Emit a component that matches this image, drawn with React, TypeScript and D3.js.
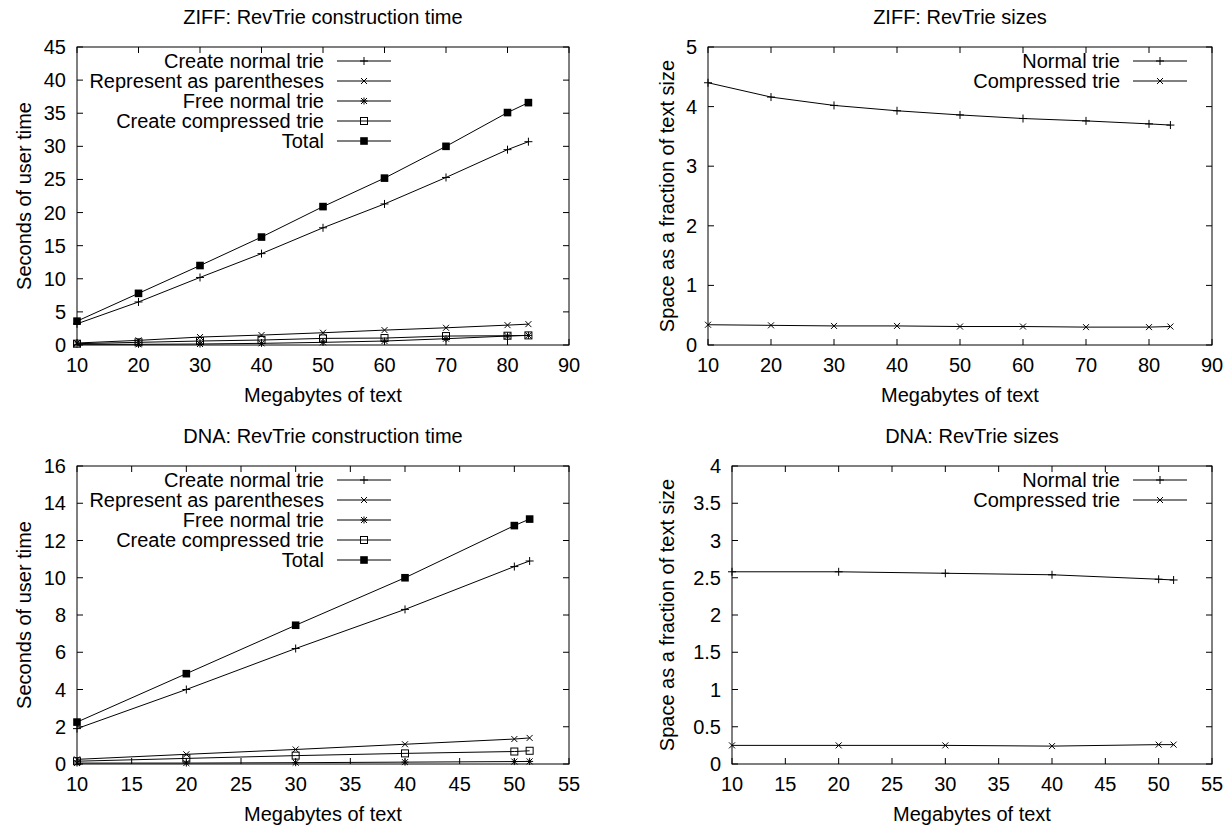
import React from "react";
import * as d3 from "d3";

const FONT = "'Liberation Sans', Arial, Helvetica, sans-serif";
const FS = 20;

// ---------- data ----------
const ziffX = [10, 20, 30, 40, 50, 60, 70, 80, 83.4];
const ziffCreateNormal = [3.2, 6.5, 10.2, 13.8, 17.7, 21.3, 25.3, 29.5, 30.7];
const ziffParentheses = [0.3, 0.7, 1.2, 1.5, 1.85, 2.25, 2.6, 3.0, 3.15];
const ziffFreeNormal = [0.1, 0.1, 0.15, 0.25, 0.4, 0.6, 0.95, 1.35, 1.45];
const ziffCreateCompressed = [0.2, 0.4, 0.6, 0.75, 1.0, 1.05, 1.35, 1.4, 1.45];
const ziffTotal = [3.6, 7.8, 12.0, 16.3, 20.9, 25.2, 30.0, 35.1, 36.6];
const ziffNormalSize = [4.4, 4.16, 4.02, 3.93, 3.86, 3.8, 3.76, 3.71, 3.69];
const ziffCompressedSize = [0.34, 0.33, 0.32, 0.32, 0.31, 0.31, 0.3, 0.3, 0.31];

const dnaX = [10, 20, 30, 40, 50, 51.4];
const dnaCreateNormal = [1.9, 4.0, 6.2, 8.3, 10.6, 10.9];
const dnaParentheses = [0.25, 0.52, 0.78, 1.06, 1.34, 1.4];
const dnaFreeNormal = [0.05, 0.05, 0.07, 0.1, 0.13, 0.14];
const dnaCreateCompressed = [0.15, 0.3, 0.45, 0.57, 0.67, 0.71];
const dnaTotal = [2.25, 4.85, 7.45, 10.0, 12.8, 13.15];
const dnaNormalSize = [2.58, 2.58, 2.56, 2.54, 2.48, 2.47];
const dnaCompressedSize = [0.25, 0.25, 0.25, 0.24, 0.26, 0.26];

const ziffXTicks = [10, 20, 30, 40, 50, 60, 70, 80, 90];
const dnaXTicks = [10, 15, 20, 25, 30, 35, 40, 45, 50, 55];
const ziffTimeYTicks = [0, 5, 10, 15, 20, 25, 30, 35, 40, 45];
const ziffSizeYTicks = [0, 1, 2, 3, 4, 5];
const dnaTimeYTicks = [0, 2, 4, 6, 8, 10, 12, 14, 16];
const dnaSizeYTicks = [0, 0.5, 1, 1.5, 2, 2.5, 3, 3.5, 4];

const timeLabels = [
  "Create normal trie",
  "Represent as parentheses",
  "Free normal trie",
  "Create compressed trie",
  "Total",
];
const sizeLabels = ["Normal trie", "Compressed trie"];

type MarkerType = "plus" | "cross" | "star" | "box" | "boxf";
const timeMarkers: MarkerType[] = ["plus", "cross", "star", "box", "boxf"];
const sizeMarkers: MarkerType[] = ["plus", "cross"];

interface Series {
  label: string;
  values: number[];
  marker: MarkerType;
}

function Marker({ type, x, y }: { type: MarkerType; x: number; y: number }) {
  const common = { stroke: "#000", strokeWidth: 1, fill: "none" };
  if (type === "plus") {
    const s = 4;
    return <path d={`M${x - s},${y}H${x + s}M${x},${y - s}V${y + s}`} {...common} />;
  }
  if (type === "cross") {
    const s = 3;
    return (
      <path
        d={`M${x - s},${y - s}L${x + s},${y + s}M${x - s},${y + s}L${x + s},${y - s}`}
        {...common}
      />
    );
  }
  if (type === "star") {
    const s = 3.5;
    const c = 3;
    return (
      <path
        d={`M${x - s},${y}H${x + s}M${x},${y - s}V${y + s}M${x - c},${y - c}L${x + c},${y + c}M${x - c},${y + c}L${x + c},${y - c}`}
        {...common}
      />
    );
  }
  if (type === "box") {
    const s = 3.5;
    return <rect x={x - s} y={y - s} width={2 * s} height={2 * s} {...common} />;
  }
  const s = 3.8;
  return <rect x={x - s} y={y - s} width={2 * s} height={2 * s} fill="#000" />;
}

interface PanelProps {
  title: string;
  ylabel: string;
  xs: number[];
  series: Series[];
  xDomain: [number, number];
  yDomain: [number, number];
  xTicks: number[];
  yTicks: number[];
  left: number;
  right: number;
  top: number;
  bottom: number;
  ylabelX: number;
  keyTextRight: number;
  keyLineStart: number;
  keyLineEnd: number;
}

function Panel(p: PanelProps) {
  const x = d3.scaleLinear().domain(p.xDomain).range([p.left, p.right]);
  const y = d3.scaleLinear().domain(p.yDomain).range([p.bottom, p.top]);
  const line = d3
    .line<number>()
    .x((_, i) => x(p.xs[i]))
    .y((v) => y(v));
  const tick = 6;
  const cx = (p.left + p.right) / 2;
  const cy = (p.top + p.bottom) / 2;
  const keyMid = (p.keyLineStart + p.keyLineEnd) / 2;
  return (
    <g>
      <text x={cx} y={p.top - 23} textAnchor="middle" fontSize={FS} fontFamily={FONT}>
        {p.title}
      </text>
      <text
        transform={`translate(${p.ylabelX},${cy}) rotate(-90)`}
        textAnchor="middle"
        dominantBaseline="central"
        fontSize={FS}
        fontFamily={FONT}
      >
        {p.ylabel}
      </text>
      <text x={cx} y={p.bottom + 57} textAnchor="middle" fontSize={FS} fontFamily={FONT}>
        Megabytes of text
      </text>
      {p.xTicks.map((t) => (
        <g key={"xt" + t}>
          <line x1={x(t)} x2={x(t)} y1={p.bottom} y2={p.bottom - tick} stroke="#000" />
          <line x1={x(t)} x2={x(t)} y1={p.top} y2={p.top + tick} stroke="#000" />
          <text x={x(t)} y={p.bottom + 27} textAnchor="middle" fontSize={FS} fontFamily={FONT}>
            {String(t)}
          </text>
        </g>
      ))}
      {p.yTicks.map((t) => (
        <g key={"yt" + t}>
          <line x1={p.left} x2={p.left + tick} y1={y(t)} y2={y(t)} stroke="#000" />
          <line x1={p.right} x2={p.right - tick} y1={y(t)} y2={y(t)} stroke="#000" />
          <text
            x={p.left - 11}
            y={y(t) + 7}
            textAnchor="end"
            fontSize={FS}
            fontFamily={FONT}
          >
            {String(t)}
          </text>
        </g>
      ))}
      <rect
        x={p.left}
        y={p.top}
        width={p.right - p.left}
        height={p.bottom - p.top}
        fill="none"
        stroke="#000"
        strokeWidth={1}
      />
      {p.series.map((s, si) => (
        <g key={"s" + si}>
          <path d={line(s.values) || ""} fill="none" stroke="#000" strokeWidth={1} />
          {s.values.map((v, i) => (
            <Marker key={i} type={s.marker} x={x(p.xs[i])} y={y(v)} />
          ))}
        </g>
      ))}
      {p.series.map((s, si) => {
        const ky = p.top + 14 + si * 20;
        return (
          <g key={"k" + si}>
            <text
              x={p.keyTextRight}
              y={ky + 7}
              textAnchor="end"
              fontSize={FS}
              fontFamily={FONT}
            >
              {s.label}
            </text>
            <line x1={p.keyLineStart} x2={p.keyLineEnd} y1={ky} y2={ky} stroke="#000" />
            <Marker type={s.marker} x={keyMid} y={ky} />
          </g>
        );
      })}
    </g>
  );
}

export default function App() {
  const ziffTime: Series[] = [
    ziffCreateNormal,
    ziffParentheses,
    ziffFreeNormal,
    ziffCreateCompressed,
    ziffTotal,
  ].map((v, i) => ({ label: timeLabels[i], values: v, marker: timeMarkers[i] }));
  const dnaTime: Series[] = [
    dnaCreateNormal,
    dnaParentheses,
    dnaFreeNormal,
    dnaCreateCompressed,
    dnaTotal,
  ].map((v, i) => ({ label: timeLabels[i], values: v, marker: timeMarkers[i] }));
  const ziffSize: Series[] = [ziffNormalSize, ziffCompressedSize].map((v, i) => ({
    label: sizeLabels[i],
    values: v,
    marker: sizeMarkers[i],
  }));
  const dnaSize: Series[] = [dnaNormalSize, dnaCompressedSize].map((v, i) => ({
    label: sizeLabels[i],
    values: v,
    marker: sizeMarkers[i],
  }));

  return (
    <svg
      width={1230}
      height={826}
      style={{ position: "absolute", left: 0, top: 0, display: "block" }}
    >
      <rect x={0} y={0} width={1230} height={826} fill="#fff" />
      <Panel
        title="ZIFF: RevTrie construction time"
        ylabel="Seconds of user time"
        xs={ziffX}
        series={ziffTime}
        xDomain={[10, 90]}
        yDomain={[0, 45]}
        xTicks={ziffXTicks}
        yTicks={ziffTimeYTicks}
        left={77}
        right={569}
        top={47}
        bottom={345}
        ylabelX={24}
        keyTextRight={324}
        keyLineStart={337}
        keyLineEnd={391}
      />
      <Panel
        title="ZIFF: RevTrie sizes"
        ylabel="Space as a fraction of text size"
        xs={ziffX}
        series={ziffSize}
        xDomain={[10, 90]}
        yDomain={[0, 5]}
        xTicks={ziffXTicks}
        yTicks={ziffSizeYTicks}
        left={708}
        right={1212}
        top={47}
        bottom={345}
        ylabelX={667}
        keyTextRight={1120}
        keyLineStart={1133}
        keyLineEnd={1187}
      />
      <Panel
        title="DNA: RevTrie construction time"
        ylabel="Seconds of user time"
        xs={dnaX}
        series={dnaTime}
        xDomain={[10, 55]}
        yDomain={[0, 16]}
        xTicks={dnaXTicks}
        yTicks={dnaTimeYTicks}
        left={77}
        right={569}
        top={466}
        bottom={764}
        ylabelX={24}
        keyTextRight={324}
        keyLineStart={337}
        keyLineEnd={391}
      />
      <Panel
        title="DNA: RevTrie sizes"
        ylabel="Space as a fraction of text size"
        xs={dnaX}
        series={dnaSize}
        xDomain={[10, 55]}
        yDomain={[0, 4]}
        xTicks={dnaXTicks}
        yTicks={dnaSizeYTicks}
        left={732}
        right={1212}
        top={466}
        bottom={764}
        ylabelX={667}
        keyTextRight={1120}
        keyLineStart={1133}
        keyLineEnd={1187}
      />
    </svg>
  );
}
